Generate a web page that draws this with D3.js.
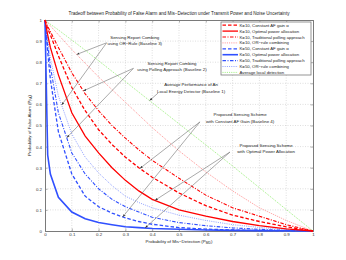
<!DOCTYPE html>
<html>
<head>
<meta charset="utf-8">
<script src="https://cdn.jsdelivr.net/npm/d3@7"></script>
<style>
body { margin: 0; background: #fff; }
svg { display: block; font-family: "Liberation Sans", Arial, sans-serif; }
</style>
</head>
<body>
<svg id="chart" width="346" height="260"></svg>
<script>

// probability of mis-detection grid (x)
const pm = [0, 0.01, 0.02, 0.05, 0.1, 0.15, 0.2, 0.25, 0.3, 0.35, 0.4, 0.5, 0.6, 0.7, 0.8, 0.9, 1];

// probability of false alarm (y) for each curve
const k10Constant = [1, 0.96, 0.93, 0.83, 0.68, 0.57, 0.48, 0.41, 0.35, 0.3, 0.255, 0.18, 0.12, 0.075, 0.045, 0.02, 0];
const k10Optimal  = [1, 0.93, 0.87, 0.74, 0.56, 0.45, 0.37, 0.3, 0.24, 0.19, 0.15, 0.1, 0.07, 0.045, 0.025, 0.01, 0];
const k10Polling  = [1, 0.97, 0.945, 0.87, 0.75, 0.65, 0.57, 0.5, 0.44, 0.385, 0.335, 0.25, 0.17, 0.11, 0.07, 0.03, 0];
const k10OrRule   = [1, 0.986, 0.972, 0.93, 0.86, 0.795, 0.73, 0.67, 0.61, 0.55, 0.49, 0.38, 0.28, 0.19, 0.11, 0.05, 0];
const k50Constant = [1, 0.85, 0.72, 0.47, 0.27, 0.165, 0.115, 0.085, 0.062, 0.045, 0.032, 0.016, 0.009, 0.005, 0.002, 0.001, 0];
const k50Optimal  = [1, 0.36, 0.27, 0.16, 0.09, 0.058, 0.04, 0.03, 0.02, 0.016, 0.012, 0.008, 0.005, 0.003, 0.002, 0.001, 0];
const k50Polling  = [1, 0.88, 0.78, 0.56, 0.37, 0.27, 0.2, 0.15, 0.115, 0.09, 0.065, 0.04, 0.025, 0.015, 0.008, 0.003, 0];
const k50OrRule   = [1, 0.91, 0.82, 0.64, 0.46, 0.35, 0.275, 0.215, 0.165, 0.135, 0.11, 0.075, 0.05, 0.03, 0.017, 0.007, 0];
const localAvg    = [1, 0.99, 0.98, 0.953, 0.905, 0.857, 0.807, 0.757, 0.708, 0.658, 0.608, 0.508, 0.408, 0.308, 0.205, 0.102, 0];

const tickValues = [0, 0.1, 0.2, 0.3, 0.4, 0.5, 0.6, 0.7, 0.8, 0.9, 1];
const tickLabels = ['0', '0.1', '0.2', '0.3', '0.4', '0.5', '0.6', '0.7', '0.8', '0.9', '1'];

const series = [
    {id: 'k10Constant', label: 'K=10, Constant AF gain \u03b1', values: k10Constant, color: '#ff0000', width: 1.3, dash: '3.5,2'},
    {id: 'k10Optimal', label: 'K=10, Optimal power allocation', values: k10Optimal, color: '#ff0000', width: 1.3, dash: null},
    {id: 'k10Polling', label: 'K=10, Traditional polling approach', values: k10Polling, color: '#ff0000', width: 1.1, dash: '3.5,1.5,1,1.5'},
    {id: 'k10OrRule', label: 'K=10, OR\u2212rule combining', values: k10OrRule, color: '#ff9090', width: 1, dash: '1,1.2'},
    {id: 'k50Constant', label: 'K=50, Constant AF gain \u03b1', values: k50Constant, color: '#3050ff', width: 1.3, dash: '3.5,2'},
    {id: 'k50Optimal', label: 'K=50, Optimal power allocation', values: k50Optimal, color: '#3050ff', width: 1.6, dash: null},
    {id: 'k50Polling', label: 'K=50, Traditional polling approach', values: k50Polling, color: '#3050ff', width: 1.1, dash: '3.5,1.5,1,1.5'},
    {id: 'k50OrRule', label: 'K=50, OR\u2212rule combining', values: k50OrRule, color: '#8fa0ff', width: 1, dash: '1,1.2'},
    {id: 'localAvg', label: 'Average local detection', values: localAvg, color: '#9af07a', width: 1, dash: '1,1.2'}
];

const notes = [
    {lines: ['Sensing Report Combing', 'using OR\u2212Rule (Baseline 3)'], at: [0.335, 0.912], from: [0.23, 0.892],
        to: [['k10OrRule', 0.118], ['k50OrRule', 0.062]]},
    {lines: ['Sensing Report Combing', 'using Polling Approach (Baseline 2)'], at: [0.474, 0.789], from: [0.33, 0.771],
        to: [['k10Polling', 0.143], ['k50Polling', 0.081]]},
    {lines: ['Average Performance of An', 'Local Energy Detector (Baseline 1)'], at: [0.545, 0.685], from: [0.422, 0.654],
        to: [['localAvg', 0.39]]},
    {lines: ['Proposed Sensing Scheme', 'with Constant AF Gain (Baseline 4)'], at: [0.728, 0.543], from: [0.578, 0.517],
        to: [['k10Constant', 0.354], ['k50Constant', 0.29]]},
    {lines: ['Proposed Sensing Scheme', 'with Optimal Power Allocation'], at: [0.825, 0.4], from: [0.69, 0.374],
        to: [['k10Optimal', 0.41], ['k50Optimal', 0.373]]}
];

const svg = d3.select('#chart');
const mLeft = 45, mRight = 313, mTop = 20, mBottom = 231;

const x = d3.scaleLinear().domain([0, 1]).range([mLeft, mRight]);
const y = d3.scaleLinear().domain([0, 1]).range([mBottom, mTop]);

svg.append('rect')
    .attr('width', 346).attr('height', 260).attr('fill', '#fff');

// grid
const grid = svg.append('g').attr('class', 'grid');
grid.selectAll('.gx')
    .data(tickValues.slice(1, -1))
    .enter().append('line')
    .attr('x1', d => x(d)).attr('x2', d => x(d))
    .attr('y1', mTop).attr('y2', mBottom);
grid.selectAll('.gy')
    .data(tickValues.slice(1, -1))
    .enter().append('line')
    .attr('y1', d => y(d)).attr('y2', d => y(d))
    .attr('x1', mLeft).attr('x2', mRight);
grid.selectAll('line')
    .style('stroke', '#c8c8c8')
    .style('stroke-width', 0.6)
    .style('stroke-dasharray', '1,1.5');

// axes
const fmt = d => tickLabels[tickValues.indexOf(d)];

svg.append('g')
    .attr('transform', 'translate(0,' + mBottom + ')')
    .call(d3.axisBottom(x).tickValues(tickValues).tickFormat(fmt).tickSize(-2.5).tickPadding(1.5));
svg.append('g')
    .attr('transform', 'translate(' + mLeft + ',0)')
    .call(d3.axisLeft(y).tickValues(tickValues).tickFormat(fmt).tickSize(-2.5).tickPadding(3));
svg.append('g')
    .attr('transform', 'translate(0,' + mTop + ')')
    .call(d3.axisTop(x).tickValues(tickValues).tickFormat('').tickSize(-2.5));
svg.append('g')
    .attr('transform', 'translate(' + mRight + ',0)')
    .call(d3.axisRight(y).tickValues(tickValues).tickFormat('').tickSize(-2.5));

svg.selectAll('.domain').style('stroke', '#7a7a7a').style('stroke-width', 1);
svg.selectAll('.tick line').style('stroke', '#7a7a7a').style('stroke-width', 0.6);
svg.selectAll('.tick text')
    .style('font-size', '4.4px')
    .style('fill', '#333')
    .style('font-family', '"Liberation Sans", Arial, sans-serif');

// curves
const line = d3.line()
    .x((d, i) => x(pm[i]))
    .y(d => y(d));

const curves = svg.append('g').attr('class', 'curves');
curves.selectAll('path')
    .data(series.slice().reverse())
    .enter().append('path')
    .attr('d', d => line(d.values))
    .style('fill', 'none')
    .style('stroke', d => d.color)
    .style('stroke-width', d => d.width)
    .style('stroke-dasharray', d => d.dash);

// annotations
svg.append('defs').append('marker')
    .attr('id', 'head')
    .attr('viewBox', '0 0 10 10')
    .attr('refX', 10).attr('refY', 5)
    .attr('markerWidth', 5).attr('markerHeight', 5)
    .attr('orient', 'auto')
    .append('path')
    .attr('d', 'M0,1.5 L10,5 L0,8.5 Z')
    .attr('fill', '#333');

const byId = {};
series.forEach(s => { byId[s.id] = d3.scaleLinear().domain(pm).range(s.values); });

const ann = svg.append('g').attr('class', 'notes');
notes.forEach(function (n) {
    n.to.forEach(function (t) {
        ann.append('line')
            .attr('x1', x(n.from[0])).attr('y1', y(n.from[1]))
            .attr('x2', x(t[1])).attr('y2', y(byId[t[0]](t[1])))
            .style('stroke', '#707070')
            .style('stroke-width', 0.6)
            .attr('marker-end', 'url(#head)');
    });
    const txt = ann.append('text')
        .attr('x', x(n.at[0]))
        .attr('y', y(n.at[1]))
        .attr('text-anchor', 'middle')
        .style('font-size', '4.4px')
        .style('fill', '#222');
    n.lines.forEach(function (l, i) {
        txt.append('tspan')
            .attr('x', x(n.at[0]))
            .attr('dy', i ? 6.2 : 0)
            .text(l);
    });
});

// legend
const lg = svg.append('g').attr('class', 'legend');
lg.append('rect')
    .attr('x', 221).attr('y', 22)
    .attr('width', 90).attr('height', 53)
    .style('fill', '#fff')
    .style('stroke', '#7a7a7a')
    .style('stroke-width', 0.8);

const rows = lg.selectAll('.row')
    .data(series)
    .enter().append('g')
    .attr('transform', (d, i) => 'translate(0,' + (25.2 + i * 5.9) + ')');
rows.append('line')
    .attr('x1', 222.5).attr('x2', 238)
    .style('stroke', d => d.color)
    .style('stroke-width', d => d.width)
    .style('stroke-dasharray', d => d.dash);
rows.append('text')
    .attr('x', 239.5)
    .attr('dy', '0.35em')
    .style('font-size', '4.3px')
    .style('fill', '#222')
    .text(d => d.label);

// titles
svg.append('text')
    .attr('x', 179).attr('y', 15)
    .attr('text-anchor', 'middle')
    .style('font-size', '4.6px')
    .style('fill', '#222')
    .text('Tradeoff between Probability of False Alarm and Mis\u2212Detection under Transmit Power and Noise Uncertainty');

const xl = svg.append('text')
    .attr('x', x(0.5)).attr('y', 242.5)
    .attr('text-anchor', 'middle')
    .style('font-size', '4.4px')
    .style('fill', '#222');
xl.append('tspan').text('Probability of Mis\u2212Detection (P');
xl.append('tspan').attr('dy', 1.3).style('font-size', '3.3px').text('MD');
xl.append('tspan').attr('dy', -1.3).text(')');

const yl = svg.append('text')
    .attr('transform', 'translate(31,' + y(0.5) + ') rotate(-90)')
    .attr('text-anchor', 'middle')
    .style('font-size', '4.4px')
    .style('fill', '#222');
yl.append('tspan').text('Probability of False Alarm (P');
yl.append('tspan').attr('dy', 1.3).style('font-size', '3.3px').text('FA');
yl.append('tspan').attr('dy', -1.3).text(')');

</script>
</body>
</html>
